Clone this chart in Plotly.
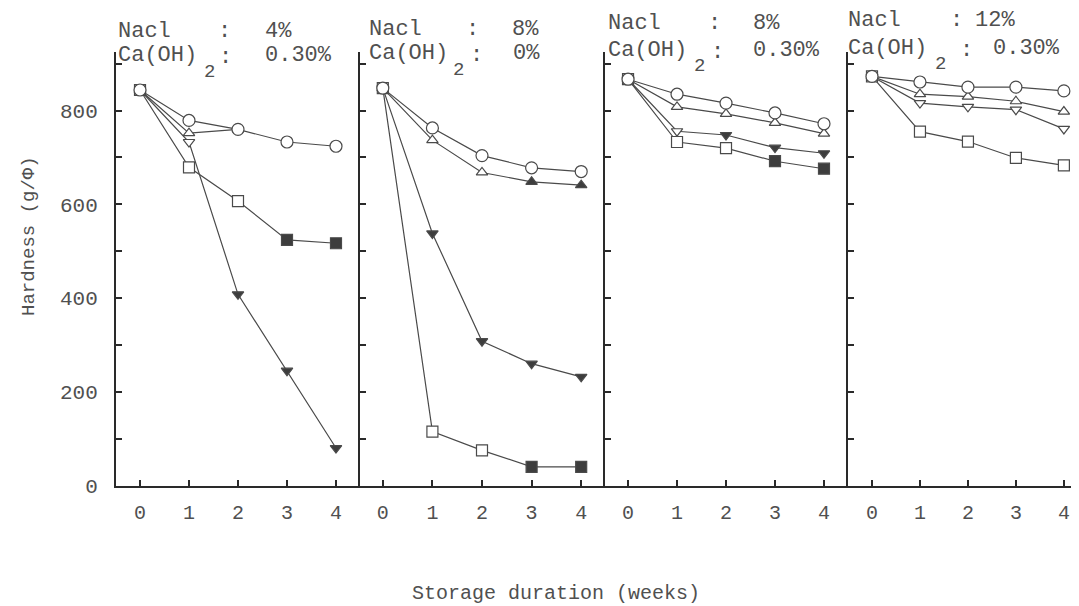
import plotly.graph_objects as go

W, H = 1079, 606

# ---------------- data ----------------
weeks = [0, 1, 2, 3, 4]

nacl_labels = ["4%", "8%", "8%", "12%"]
caoh_labels = ["0.30%", "0%", "0.30%", "0.30%"]

# panel 1: NaCl 4%, Ca(OH)2 0.30%
p1_circle = [844, 779, 760, 733, 724]
p1_triup = [844, 752, 760, None, None]
p1_tridown = [844, 733, 408, 245, 80]
p1_square = [844, 679, 607, 524, 517]

# panel 2: NaCl 8%, Ca(OH)2 0%
p2_circle = [848, 763, 704, 678, 670]
p2_triup = [848, 737, 668, 648, 641]
p2_tridown = [848, 538, 308, 260, 232]
p2_square = [848, 115, 75, 40, 40]

# panel 3: NaCl 8%, Ca(OH)2 0.30%
p3_circle = [867, 835, 816, 795, 772]
p3_triup = [867, 808, 793, 774, 751]
p3_tridown = [867, 756, 748, 721, 709]
p3_square = [867, 733, 720, 692, 676]

# panel 4: NaCl 12%, Ca(OH)2 0.30%
p4_circle = [873, 861, 850, 850, 842]
p4_triup = [873, 835, 830, 820, 798]
p4_tridown = [873, 816, 808, 802, 761]
p4_square = [873, 755, 734, 699, 683]

# index of first filled (solid) marker per series, None = all open
p1_filled = {"circle": None, "triup": None, "tridown": 2, "square": 3}
p2_filled = {"circle": None, "triup": 3, "tridown": 1, "square": 3}
p3_filled = {"circle": None, "triup": None, "tridown": 2, "square": 3}
p4_filled = {"circle": None, "triup": None, "tridown": None, "square": None}

yticks = [0, 100, 200, 300, 400, 500, 600, 700, 800, 900]
yticklabels = ["0", "", "200", "", "400", "", "600", "", "800", ""]

panels = [
    dict(circle=p1_circle, triup=p1_triup, tridown=p1_tridown, square=p1_square, filled=p1_filled),
    dict(circle=p2_circle, triup=p2_triup, tridown=p2_tridown, square=p2_square, filled=p2_filled),
    dict(circle=p3_circle, triup=p3_triup, tridown=p3_tridown, square=p3_square, filled=p3_filled),
    dict(circle=p4_circle, triup=p4_triup, tridown=p4_tridown, square=p4_square, filled=p4_filled),
]

# ---------------- layout geometry (pixels) ----------------
dom_px = [(108, 352), (352, 597), (597, 840), (840, 1065)]
xranges = [(-0.49, 4.49), (-0.46, 4.48), (-0.47, 4.49), (-0.5, 4.19)]
ydom = [1 - 488 / H, 1 - 45 / H]
yrange = [0, 925]

LINE = "#4a4a4a"
FILL = "#3d3d3d"
AX = "#2a2a2a"
TXT = "#505050"
FONT = "Liberation Mono"

symbols = {"circle": "circle", "triup": "triangle-up", "tridown": "triangle-down", "square": "square"}
sizes = {"circle": 12, "triup": 10, "tridown": 10, "square": 11}
order = ["square", "tridown", "triup", "circle"]

fig = go.Figure()

for i, p in enumerate(panels):
    xa = "x" if i == 0 else f"x{i+1}"
    ya = "y" if i == 0 else f"y{i+1}"
    for key in order:
        vals = p[key]
        fs = p["filled"][key]
        colors = [FILL if (fs is not None and j >= fs) else "white" for j in range(len(vals))]
        fig.add_trace(go.Scatter(
            x=weeks, y=vals, xaxis=xa, yaxis=ya, mode="lines+markers",
            line=dict(color=LINE, width=1.2),
            marker=dict(symbol=symbols[key], size=sizes[key], color=colors,
                        line=dict(color=LINE, width=1.2)),
            showlegend=False, connectgaps=False, cliponaxis=False,
        ))

layout = dict(
    width=W, height=H, margin=dict(l=0, r=0, t=0, b=0),
    paper_bgcolor="white", plot_bgcolor="white", showlegend=False,
    font=dict(family=FONT, color=TXT),
)
for i in range(4):
    xk = "xaxis" if i == 0 else f"xaxis{i+1}"
    yk = "yaxis" if i == 0 else f"yaxis{i+1}"
    xa = "x" if i == 0 else f"x{i+1}"
    ya = "y" if i == 0 else f"y{i+1}"
    d0, d1 = dom_px[i]
    layout[xk] = dict(
        domain=[d0 / W, d1 / W], range=list(xranges[i]), anchor=ya,
        showline=True, linecolor=AX, linewidth=2, showgrid=False, zeroline=False,
        tickvals=weeks, ticktext=[str(w) for w in weeks], ticks="inside",
        ticklen=6, tickwidth=1.5, tickcolor=AX,
        tickfont=dict(family=FONT, size=20, color=TXT), ticklabelstandoff=7,
    )
    layout[yk] = dict(
        domain=ydom, range=yrange, anchor=xa,
        showline=True, linecolor=AX, linewidth=2, showgrid=False, zeroline=False,
        tickvals=yticks, ticktext=yticklabels, ticks="inside",
        ticklen=6, tickwidth=1.5, tickcolor=AX,
        showticklabels=(i == 0),
        tickfont=dict(family=FONT, size=21, color=TXT), ticklabelstandoff=12,
    )
fig.update_layout(**layout)

# ---------------- header annotations ----------------
hdr = [
    dict(nx=118, r1=30, r2=53, c1=225, c2=226, v1=265, v2=265, sx=204),
    dict(nx=369, r1=28, r2=51, c1=473, c2=477, v1=512, v2=513, sx=453),
    dict(nx=608, r1=22, r2=47, c1=715, c2=718, v1=753, v2=753, sx=694),
    dict(nx=848, r1=19, r2=45, c1=957, c2=967, v1=975, v2=993, sx=935),
]
DX = -9  # annotation text padding compensation
DY1, DY2 = -6, -4


def ann(text, px, py, xanchor="left", size=21, angle=0):
    fig.add_annotation(text=text, x=px / W, y=1 - py / H, xref="paper", yref="paper",
                       xanchor=xanchor, yanchor="middle", showarrow=False,
                       textangle=angle, borderpad=0,
                       font=dict(family=FONT, size=size, color=TXT))


for i, h in enumerate(hdr):
    ann("Nacl", h["nx"] + DX, h["r1"] + DY1, size=22)
    ann(":", h["c1"] + DX, h["r1"] + DY1, xanchor="center", size=22)
    ann(nacl_labels[i], h["v1"] + DX, h["r1"] + DY1, size=22)
    ann("Ca(OH)", h["nx"] + DX, h["r2"] + DY2, size=22)
    ann("2", h["sx"] + DX, h["r2"] + DY2 + 16, size=19)
    ann(":", h["c2"] + DX, h["r2"] + DY2 + 2, xanchor="center", size=22)
    ann(caoh_labels[i], h["v2"] + DX, h["r2"] + DY2, size=22)

ann("Hardness (g/\u03a6)", 21, 233, xanchor="center", size=19, angle=-90)
ann("Storage duration (weeks)", 548, 598, xanchor="center", size=20)

fig.write_html("out.html")
